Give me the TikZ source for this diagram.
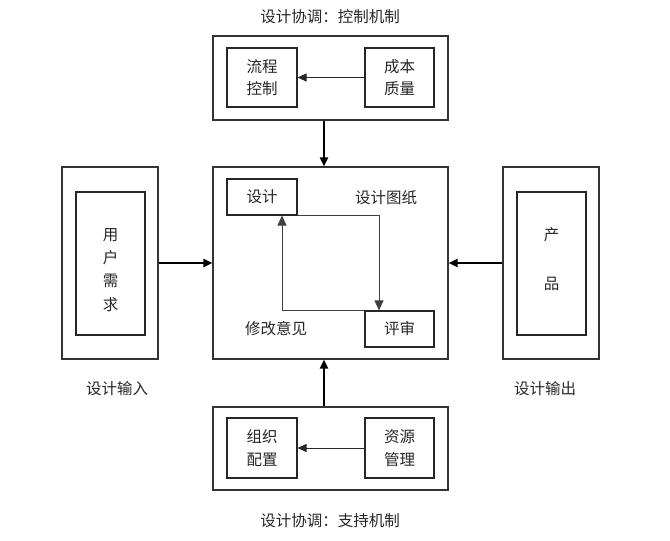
\documentclass[tikz,border=0pt]{standalone}
\usepackage{fontspec}
\setmainfont{Noto Sans CJK SC}
\usetikzlibrary{arrows.meta}
\begin{document}
\begin{tikzpicture}[x=1pt,y=-1pt,
  every node/.style={font=\fontsize{15.5}{22.5}\selectfont, text=black!85},
  frame/.style={draw=black!80, line width=1.1pt, inner sep=0pt},
  box/.style={draw=black!85, line width=1.1pt, inner sep=0pt, align=center},
  lbl/.style={inner sep=0pt, align=center},
  small/.style={-{Triangle[length=9pt,width=8pt]}, line width=1pt, black!85},
  big/.style={-{Triangle[length=9pt,width=8pt]}, line width=2pt, black},
  loop/.style={-{Triangle[length=10pt,width=9pt]}, line width=0.9pt, black!75}]
\useasboundingbox (0,0) rectangle (670,541);
% top
\node[lbl] (ttitle) at (330,17) {设计协调：控制机制};
\node[frame, minimum width=235pt, minimum height=84pt] (top) at (330.5,78) {};
\node[box, minimum width=70pt, minimum height=59pt] (flow) at (262,77.5) {流程\\控制};
\node[box, minimum width=69pt, minimum height=59pt] (cost) at (399.5,77.5) {成本\\质量};
\draw[small] (cost.west) -- (flow.east);
% center
\node[frame, minimum width=235pt, minimum height=192pt] (mid) at (330.5,263) {};
\node[box, minimum width=70pt, minimum height=36pt] (design) at (262,197) {设计};
\node[box, minimum width=69pt, minimum height=36pt] (review) at (399.5,329) {评审};
\node[lbl] (drawing) at (386,198) {设计图纸};
\node[lbl] (advice) at (276,329) {修改意见};
\draw[loop] (design.south east) -| ([xshift=-20.5pt]review.north);
\draw[loop] (review.north west) -| ([xshift=20pt]design.south);
% left
\node[frame, minimum width=96pt, minimum height=192pt] (lout) at (110,263) {};
\node[box, minimum width=69pt, minimum height=143pt] (lin) at (110.5,263.5) {};
\node[lbl, font=\fontsize{15.5}{23.3}\selectfont] (ltext) at (110.5,270) {用\\户\\需\\求};
\node[lbl] (inlbl) at (117,389) {设计输入};
% right
\node[frame, minimum width=96pt, minimum height=192pt] (rout) at (551,263) {};
\node[box, minimum width=69pt, minimum height=143pt] (rin) at (551.5,263.5) {};
\node[lbl, font=\fontsize{15.5}{24.5}\selectfont] (rtext) at (551.5,259) {产\\[24.5pt]品};
\node[lbl] (outlbl) at (545,389) {设计输出};
% bottom
\node[frame, minimum width=235pt, minimum height=83pt] (bot) at (330.5,448.5) {};
\node[box, minimum width=70pt, minimum height=60pt] (org) at (262,448) {组织\\配置};
\node[box, minimum width=69pt, minimum height=60pt] (res) at (399.5,448) {资源\\管理};
\draw[small] (res.west) -- (org.east);
\node[lbl] (btitle) at (330,521) {设计协调：支持机制};
% main arrows
\draw[big] ([xshift=-6.5pt]top.south) -- ([xshift=-6.5pt]mid.north);
\draw[big] ([xshift=-6.5pt]bot.north) -- ([xshift=-6.5pt]mid.south);
\draw[big] (lout.east) -- (mid.west);
\draw[big] (rout.west) -- (mid.east);
\end{tikzpicture}
\end{document}
